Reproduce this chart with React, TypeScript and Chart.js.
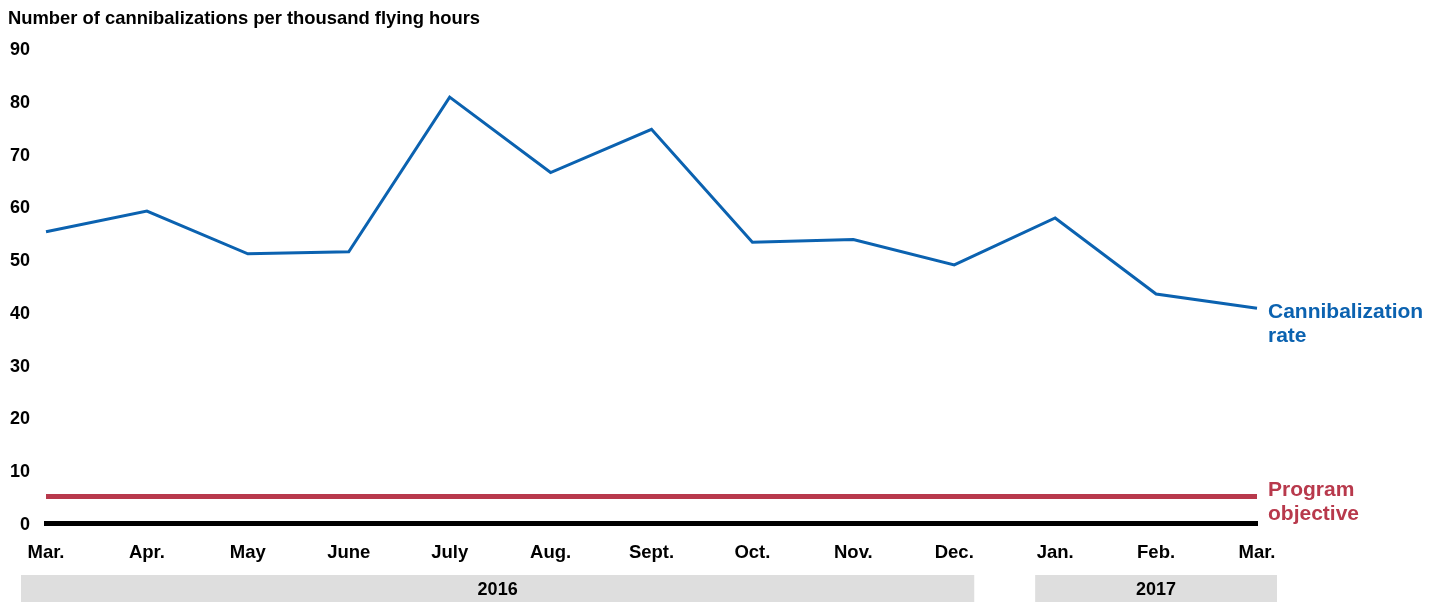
import React, { useEffect, useRef } from "react";
import { Chart, registerables } from "chart.js";

Chart.register(...registerables);

const months = ["Mar.", "Apr.", "May", "June", "July", "Aug.", "Sept.", "Oct.", "Nov.", "Dec.", "Jan.", "Feb.", "Mar."];
const cannibalizationRate = [55.2, 59.1, 51.0, 51.4, 80.7, 66.4, 74.6, 53.2, 53.7, 48.9, 57.8, 43.4, 40.7];
const programObjective = [5, 5, 5, 5, 5, 5, 5, 5, 5, 5, 5, 5, 5];
const yearLabels = ["2016", "2017"];
const yearStartIndex = [0, 10];
const yearEndIndex = [9, 12];
const seriesLabels = [["Cannibalization", "rate"], ["Program", "objective"]];
const titleText = "Number of cannibalizations per thousand flying hours";

const BLUE = "#0b62b0";
const RED = "#b8394c";
const FONT = "'Liberation Sans', Arial, sans-serif";

export default function App() {
  const ref = useRef<HTMLCanvasElement | null>(null);

  useEffect(() => {
    if (!ref.current) return;
    const decor = {
      id: "decor",
      beforeDraw(chart: any) {
        const ctx = chart.ctx;
        const x = chart.scales.x;
        ctx.save();
        for (let i = 0; i < yearLabels.length; i++) {
          const l = x.getPixelForValue(yearStartIndex[i]) - (yearStartIndex[i] === 0 ? 25 : 20);
          const r = x.getPixelForValue(yearEndIndex[i]) + 20;
          ctx.fillStyle = "#dedede";
          ctx.fillRect(l, 575, r - l, 27);
          ctx.fillStyle = "#000";
          ctx.font = `bold 18px ${FONT}`;
          ctx.textAlign = "center";
          ctx.textBaseline = "middle";
          ctx.fillText(yearLabels[i], (l + r) / 2, 590);
        }
        ctx.fillStyle = "#000";
        ctx.font = `bold 18.4px ${FONT}`;
        ctx.textAlign = "left";
        ctx.textBaseline = "middle";
        ctx.fillText(titleText, 8, 19);
        ctx.restore();
      },
      afterDatasetsDraw(chart: any) {
        const ctx = chart.ctx;
        ctx.save();
        ctx.font = `bold 21px ${FONT}`;
        ctx.textAlign = "left";
        ctx.textBaseline = "middle";
        const offsets = [4, -6];
        chart.data.datasets.forEach((ds: any, i: number) => {
          const meta = chart.getDatasetMeta(i);
          const pt = meta.data[meta.data.length - 1];
          ctx.fillStyle = ds.borderColor;
          seriesLabels[i].forEach((line, j) => {
            ctx.fillText(line, pt.x + 11, pt.y + offsets[i] + j * 24);
          });
        });
        ctx.restore();
      },
    };

    const chart = new Chart(ref.current, {
      type: "line",
      data: {
        labels: months,
        datasets: [
          {
            label: "Cannibalization rate",
            data: cannibalizationRate,
            borderColor: BLUE,
            borderWidth: 3,
            pointRadius: 0,
            tension: 0,
            fill: false,
          },
          {
            label: "Program objective",
            data: programObjective,
            borderColor: RED,
            borderWidth: 5,
            pointRadius: 0,
            tension: 0,
            fill: false,
          },
        ],
      },
      options: {
        responsive: false,
        animation: false,
        layout: { padding: { top: 48, right: 183, left: 0, bottom: 0 } },
        plugins: {
          legend: { display: false },
          tooltip: { enabled: false },
          title: { display: false },
        },
        scales: {
          x: {
            grid: { display: false, drawTicks: false },
            border: { display: true, color: "#000", width: 5 },
            ticks: {
              color: "#000",
              font: { family: FONT, size: 18.5, weight: "bold" },
              padding: 19,
              maxRotation: 0,
              autoSkip: false,
            },
            afterFit: (s: any) => {
              s.height = 79;
            },
          },
          y: {
            min: 0,
            max: 90,
            grid: { display: false, drawTicks: false },
            border: { display: false },
            ticks: {
              stepSize: 10,
              color: "#000",
              font: { family: FONT, size: 18, weight: "bold" },
              padding: 16,
              labelOffset: 2,
            },
            afterFit: (s: any) => {
              s.width = 46;
            },
          },
        },
      },
      plugins: [decor],
    });
    return () => chart.destroy();
  }, []);

  return (
    <div style={{ position: "absolute", left: 0, top: 0, width: 1440, height: 602, background: "#fff" }}>
      <canvas ref={ref} width={1440} height={602} style={{ display: "block", width: 1440, height: 602 }} />
    </div>
  );
}
